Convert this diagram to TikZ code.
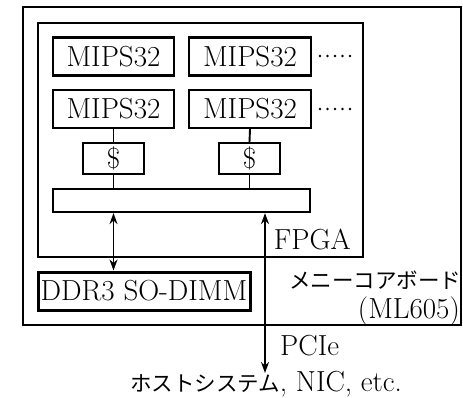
\documentclass[tikz,border=0pt]{standalone}
\usepackage{fontspec}
\newfontfamily\cjk{Noto Sans CJK JP}
\usetikzlibrary{arrows.meta}
\begin{document}
\begin{tikzpicture}[x=1pt,y=-1pt,
  box/.style={draw,line width=2.2pt,inner sep=0pt,minimum height=38pt,font=\fontsize{29}{32}\selectfont},
  frame/.style={draw,line width=2pt},
  link/.style={line width=1.9pt},
  dbl/.style={line width=1.9pt,{Stealth[length=11pt,width=8pt]}-{Stealth[length=11pt,width=8pt]}},
  lbl/.style={inner sep=0pt,font=\fontsize{29}{32}\selectfont},
  jlbl/.style={inner sep=0pt,font=\cjk\fontsize{21.5}{24}\selectfont}]
\useasboundingbox (0,0) rectangle (463,398);
\draw[frame] (23,7) rectangle (461,325);
\draw[frame] (38,23) rectangle (363,257);
\node[box,minimum width=121pt] (m11) at (113.5,56.5) {MIPS32};
\node[box,minimum width=122pt] (m12) at (250,56.5) {MIPS32};
\node[box,minimum width=121pt] (m21) at (113.5,109) {MIPS32};
\node[box,minimum width=122pt] (m22) at (250,109) {MIPS32};
\node[box,minimum width=61pt,minimum height=31pt] (c1) at (113.5,158.5) {\$};
\node[box,minimum width=61pt,minimum height=31pt] (c2) at (249.5,158.5) {\$};
\node[box,minimum width=257pt,minimum height=23pt] (bus) at (181.5,200.5) {};
\node[box,line width=3pt,minimum width=212pt] (ddr) at (144,291) {DDR3 SO-DIMM};
\foreach \i in {0,...,4} {
  \fill (320+\i*7.5,56) circle (1.4pt);
  \fill (320+\i*7.5,109) circle (1.4pt);
}
\draw[link] (m21.south) -- (c1.north);
\draw[link] (c1.south) -- (bus.north -| c1.south);
\draw[link] (m22.south) -- (c2.north);
\draw[link] (c2.south) -- (bus.north -| c2.south);
\coordinate (pend) at (265,373);
\draw[dbl] (bus.south -| c1.south) -- (ddr.north -| c1.south);
\draw[dbl] (bus.south -| pend) -- (pend);
\node[lbl,anchor=base east] (fpga) at (351,249) {FPGA};
\node[jlbl,anchor=west] (board) at (289,280) {メニーコアボード};
\node[lbl,anchor=base east] (ml) at (460,318) {(ML605)};
\node[lbl,anchor=base west] (pcie) at (280,355) {PCIe};
\node[lbl,anchor=base] (host) at (266,391) {{\cjk\fontsize{21.5}{24}\selectfont ホストシステム}, NIC, etc.};
\end{tikzpicture}
\end{document}
